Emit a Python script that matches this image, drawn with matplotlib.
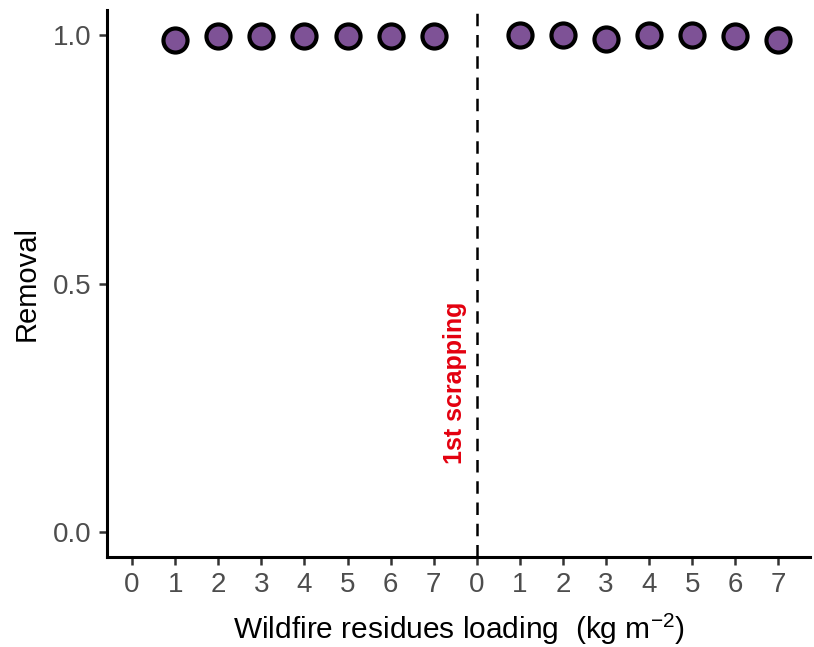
import matplotlib
matplotlib.use("Agg")
import matplotlib.pyplot as plt

plt.rcParams['font.family'] = ['Liberation Sans', 'DejaVu Sans']
plt.rcParams['mathtext.default'] = 'regular'

tick_labels = ['0', '1', '2', '3', '4', '5', '6', '7', '0', '1', '2', '3', '4', '5', '6', '7']
loading_before = [1, 2, 3, 4, 5, 6, 7]
removal_before = [0.990, 0.997, 0.998, 0.998, 0.998, 0.997, 0.998]
loading_after = [1, 2, 3, 4, 5, 6, 7]
removal_after = [0.999, 0.999, 0.992, 0.999, 0.999, 0.998, 0.990]
scrape_label = '1st scrapping'

pos_before = [v for v in loading_before]
pos_after = [v + 8 for v in loading_after]

fig = plt.figure(figsize=(8.14, 6.47), dpi=100)
ax = fig.add_axes([0.1315, 0.139, 0.8635, 0.8455])

ax.scatter(pos_before + pos_after, removal_before + removal_after,
           s=300, facecolor='#7E5296', edgecolor='black', linewidth=3, zorder=3)
ax.axvline(8, color='black', linestyle=(0, (5, 3.5)), linewidth=1.8, zorder=2)
ax.text(7.5, 0.30, scrape_label, rotation=90, color='#E3000F', fontsize=18,
        fontweight='bold', ha='center', va='center')

ax.set_xlim(-0.58, 15.73)
ax.set_ylim(-0.05, 1.05)
ax.set_xticks(range(len(tick_labels)))
ax.set_xticklabels(tick_labels)
ax.set_yticks([0.0, 0.5, 1.0])
ax.set_yticklabels(['0.0', '0.5', '1.0'])

for side in ['top', 'right']:
    ax.spines[side].set_visible(False)
for side in ['left', 'bottom']:
    ax.spines[side].set_linewidth(2.2)
ax.tick_params(axis='both', length=6, width=1.8, colors='#333333', labelsize=20,
               labelcolor='#4D4D4D', pad=5)

ax.set_xlabel(r'Wildfire residues loading  (kg m$^{-2}$)', fontsize=21.5, labelpad=10)
ax.set_ylabel('Removal', fontsize=21, labelpad=9)

fig.savefig('out.png', dpi=100)
